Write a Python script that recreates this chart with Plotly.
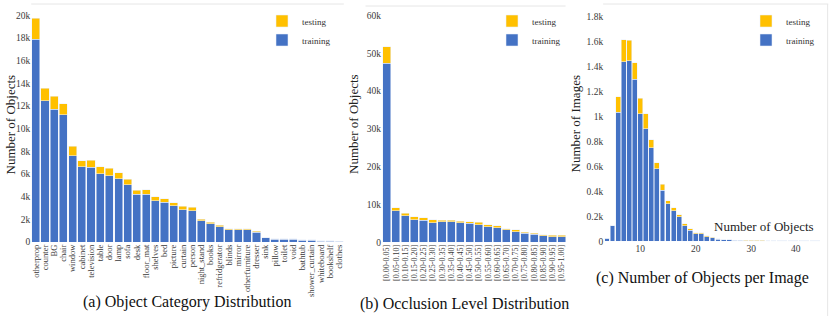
import plotly.graph_objects as go

# ---------------- data ----------------
obj_categories = ["otherprop", "counter", "BG", "chair", "window", "cabinet", "television", "table",
                  "door", "lamp", "sofa", "desk", "floor_mat", "shelves", "bed", "picture", "curtain",
                  "person", "night_stand", "books", "refridgerator", "blinds", "mirror", "otherfurniture",
                  "dresser", "sink", "pillow", "toilet", "void", "bathtub", "shower_curtain", "whiteboard",
                  "bookshelf", "clothes"]
obj_training = [17910, 12460, 11720, 11220, 7630, 6660, 6600, 6040, 5830, 5600, 5070, 4210, 4210, 3650,
                3510, 3180, 2860, 2740, 1860, 1590, 1330, 1060, 1060, 1060, 850, 360, 240, 240, 240, 150,
                150, 60, 60, 50]
obj_testing = [1820, 1090, 1120, 970, 820, 500, 620, 590, 680, 500, 470, 360, 380, 360, 320, 270, 290,
               320, 140, 150, 140, 120, 120, 120, 90, 20, 50, 50, 50, 60, 60, 60, 60, 10]

occ_levels = ["[0.00-0.05]", "[0.05-0.10]", "[0.10-0.15]", "[0.15-0.20]", "[0.20-0.25]", "[0.25-0.30]",
              "[0.30-0.35]", "[0.35-0.40]", "[0.40-0.45]", "[0.45-0.50]", "[0.50-0.55]", "[0.55-0.60]",
              "[0.60-0.65]", "[0.65-0.70]", "[0.70-0.75]", "[0.75-0.80]", "[0.80-0.85]", "[0.85-0.90]",
              "[0.90-0.95]", "[0.95-1.00]"]
occ_training = [47300, 8300, 7060, 6000, 5830, 5210, 5470, 5470, 5120, 5030, 4590, 4150, 3800, 3350,
                2820, 2380, 2120, 1770, 1500, 1500]
occ_testing = [4400, 790, 620, 710, 610, 700, 360, 360, 440, 350, 710, 530, 520, 270, 450, 270, 260,
               170, 350, 350]

n_objects = ["4", "5", "6", "7", "8", "9", "10", "11", "12", "13", "14", "15", "16", "17", "18", "19",
             "20", "21", "22", "23", "24", "25", "26", "27", "28", "29", "30", "31", "32", "33", "34",
             "35", "37", "38", "40", "41", "42", "44", "46"]
img_training = [24, 125, 1032, 1437, 1445, 1296, 1021, 899, 749, 579, 408, 301, 245, 195, 125, 88, 59,
                59, 37, 27, 16, 11, 12, 7, 6, 5, 5, 5, 5, 4, 4, 4, 4, 4, 4, 4, 4, 4, 4]
img_testing = [0, 0, 125, 176, 166, 133, 123, 120, 64, 50, 48, 24, 22, 16, 14, 11, 10, 10, 8, 5, 5, 2,
               1, 2, 1, 1, 1, 2, 2, 0, 0, 0, 0, 0, 0, 0, 0, 0, 0]
img_ticks = ["10", "20", "30", "40"]
img_yvals = [0, 200, 400, 600, 800, 1000, 1200, 1400, 1600, 1800]
img_ylabels = ["0", "0.2k", "0.4k", "0.6k", "0.8k", "1k", "1.2k", "1.4k", "1.6k", "1.8k"]

# ---------------- style ----------------
W, H = 831, 316
BLUE = "#4472C4"
YELLOW = "#FFC000"
EDGE = "rgba(235,240,250,0.9)"
FONT = "Liberation Serif, Times New Roman, serif"


def fx(px):
    return px / W


def fy(py):
    return 1 - py / H


fig = go.Figure()

panels = [
    ("x", "y", "legend", obj_categories, obj_training, obj_testing),
    ("x2", "y2", "legend2", occ_levels, occ_training, occ_testing),
    ("x3", "y3", "legend3", n_objects, img_training, img_testing),
]
for xa, ya, lg, cats, tr, te in panels:
    fig.add_trace(go.Bar(x=cats, y=tr, name="training", marker=dict(color=BLUE, line=dict(color=EDGE, width=0.6)),
                         xaxis=xa, yaxis=ya, legend=lg))
    fig.add_trace(go.Bar(x=cats, y=te, name="testing", marker=dict(color=YELLOW, line=dict(color=EDGE, width=0.6)),
                         xaxis=xa, yaxis=ya, legend=lg))

tickfont = dict(family=FONT, size=9.5, color="#3a3a3a")
common_y = dict(showgrid=False, zeroline=False, showline=False, ticks="", tickfont=tickfont, automargin=False)
common_x = dict(type="category", showgrid=False, zeroline=False, showline=False, ticks="", automargin=False)

legend_style = dict(font=dict(family=FONT, size=9, color="#333"), bgcolor="rgba(0,0,0,0)",
                    traceorder="reversed", xanchor="right", yanchor="top", itemwidth=30)

fig.update_layout(
    width=W, height=H, margin=dict(l=0, r=0, t=0, b=0, autoexpand=False),
    paper_bgcolor="white", plot_bgcolor="white",
    barmode="stack", bargap=0.12,
    font=dict(family=FONT, color="#333"),
    xaxis=dict(common_x, domain=[fx(31.2), fx(343.8)], anchor="y", tickangle=-90,
               tickmode="array", tickvals=obj_categories, ticktext=obj_categories,
               tickfont=dict(family=FONT, size=8.5, color="#3a3a3a")),
    yaxis=dict(common_y, domain=[fy(242), fy(4)], anchor="x", range=[0, 21000], dtick=2000),
    xaxis2=dict(common_x, domain=[fx(382.1), fx(566.3)], anchor="y2", tickangle=-90,
                tickmode="array", tickvals=occ_levels, ticktext=occ_levels,
                tickfont=dict(family=FONT, size=8, color="#3a3a3a")),
    yaxis2=dict(common_y, domain=[fy(242.3), fy(6)], anchor="x2", range=[0, 62500], dtick=10000),
    xaxis3=dict(common_x, domain=[fx(604.2), fx(820.7)], anchor="y3", tickangle=0,
                tickmode="array", tickvals=img_ticks, ticktext=img_ticks, tickfont=tickfont),
    yaxis3=dict(common_y, domain=[fy(241.2), fy(4)], anchor="x3", range=[0, 1900],
                tickmode="array", tickvals=img_yvals, ticktext=img_ylabels),
    legend=dict(legend_style, x=fx(336), y=fy(6.5)),
    legend2=dict(legend_style, x=fx(566), y=fy(6.5)),
    legend3=dict(legend_style, x=fx(820), y=fy(6.5)),
    showlegend=True,
)

line_col = "#e6e6e6"
fig.add_shape(type="line", xref="x domain", yref="y domain", x0=0.0, x1=1.0, y0=1, y1=1,
              line=dict(color=line_col, width=1))
fig.add_shape(type="line", xref="x2 domain", yref="y2 domain", x0=-0.09, x1=0.996, y0=1, y1=1,
              line=dict(color=line_col, width=1))
fig.add_shape(type="line", xref="x3 domain", yref="y3 domain", x0=-0.005, x1=1.035, y0=1, y1=1,
              line=dict(color=line_col, width=1))
fig.add_shape(type="line", xref="x3 domain", yref="paper", x0=1.032, x1=1.032, y0=0, y1=fy(4),
              line=dict(color=line_col, width=1))

title_font = dict(family=FONT, size=13, color="#222")
cap_font = dict(family=FONT, size=16, color="#111")
annots = [
    dict(text="Number of Objects", x=fx(10), y=fy(124.5), textangle=-90, font=title_font),
    dict(text="Number of Objects", x=fx(353), y=fy(124), textangle=-90, font=title_font),
    dict(text="Number of Images", x=fx(575), y=fy(124.5), textangle=-90, font=title_font),
    dict(text="Number of Objects", x=fx(764), y=fy(226), font=title_font),
    dict(text="(a) Object Category Distribution", x=fx(186.5), y=fy(302), font=cap_font),
    dict(text="(b) Occlusion Level Distribution", x=fx(465), y=fy(304), font=cap_font),
    dict(text="(c) Number of Objects per Image", x=fx(702), y=fy(278), font=cap_font),
]
for a in annots:
    fig.add_annotation(xref="paper", yref="paper", showarrow=False, xanchor="center", yanchor="middle", **a)

# remove the browser's default page margin so the figure starts at the window's corner
fig.write_html("out.html", config={"displayModeBar": False},
               post_script="document.body.style.margin='0';")
